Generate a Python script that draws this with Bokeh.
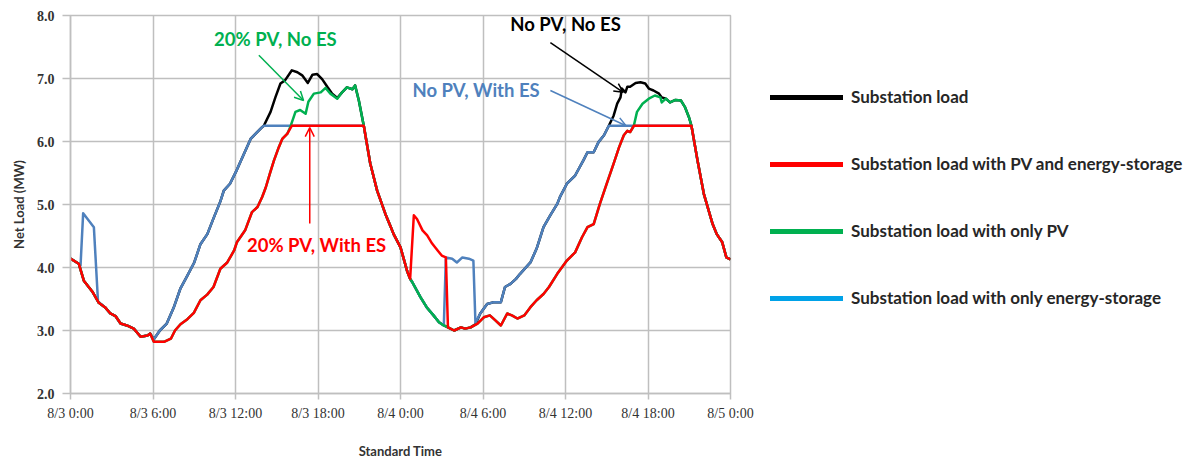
import numpy as np
from bokeh.plotting import figure
from bokeh.models import (Range1d, FixedTicker, Legend, LegendItem, Arrow, OpenHead,
                          ColumnDataSource)
from bokeh.embed import file_html
from bokeh.resources import INLINE
from bokeh.core.properties import value

# ---------------- data (hours since 8/3 0:00, MW) ----------------
tick_hours = [0, 6, 12, 18, 24, 30, 36, 42, 48]
tick_labels = ["8/3 0:00", "8/3 6:00", "8/3 12:00", "8/3 18:00", "8/4 0:00",
               "8/4 6:00", "8/4 12:00", "8/4 18:00", "8/5 0:00"]

black_pts = [
    (0, 4.14), (0.6, 4.06), (0.97, 3.79), (1.58, 3.62), (2.06, 3.44), (2.55, 3.36), (2.9, 3.27),
    (3.27, 3.23), (3.64, 3.11), (4.1, 3.08), (4.6, 3.03), (5.1, 2.90), (5.6, 2.92), (5.8, 2.95),
    (6.06, 2.86), (6.5, 3.0), (7.0, 3.11), (7.5, 3.36), (8.0, 3.67), (8.5, 3.87), (9.0, 4.08),
    (9.45, 4.37), (9.95, 4.53), (10.4, 4.78), (10.9, 5.05), (11.15, 5.22), (11.6, 5.33),
    (12.1, 5.55), (12.4, 5.70), (13.1, 6.04), (13.45, 6.12), (13.9, 6.22), (14.06, 6.25),
    (14.55, 6.47), (14.9, 6.70), (15.27, 6.92), (15.6, 6.97), (16.1, 7.13), (16.5, 7.10),
    (16.85, 7.05), (17.26, 6.93), (17.6, 7.06), (17.94, 7.07), (18.3, 6.99), (18.7, 6.86),
    (19.03, 6.76), (19.4, 6.69), (19.75, 6.78), (20.1, 6.86), (20.5, 6.83), (20.7, 6.89),
    (20.97, 6.65), (21.33, 6.25), (21.8, 5.65), (22.3, 5.22), (22.9, 4.85), (23.3, 4.64),
    (23.5, 4.53), (24.0, 4.32), (24.5, 3.93), (24.7, 3.82), (24.85, 3.77), (25.45, 3.53),
    (25.9, 3.37), (26.4, 3.24), (26.8, 3.13), (27.15, 3.08), (27.45, 3.05), (27.9, 3.0),
    (28.4, 3.05), (28.7, 3.03), (29.1, 3.05), (29.45, 3.10), (29.8, 3.27), (30.3, 3.42),
    (30.8, 3.45), (31.3, 3.45), (31.6, 3.69), (32.0, 3.74), (32.4, 3.82), (32.7, 3.90),
    (33.45, 4.08), (33.9, 4.30), (34.4, 4.64), (34.9, 4.83), (35.4, 5.01), (35.6, 5.12),
    (36.1, 5.33), (36.7, 5.46), (37.3, 5.70), (37.6, 5.83), (38.05, 5.83), (38.4, 5.99),
    (38.8, 6.10), (39.15, 6.25), (39.5, 6.41), (39.76, 6.60), (40.0, 6.70), (40.1, 6.84),
    (40.36, 6.78), (40.5, 6.87), (40.7, 6.87), (41.1, 6.93), (41.45, 6.94), (41.8, 6.92),
    (42.06, 6.84), (42.4, 6.81), (42.8, 6.76), (43.0, 6.70), (43.3, 6.68), (43.6, 6.62),
    (44.0, 6.66), (44.4, 6.65), (44.7, 6.54), (44.97, 6.39), (45.16, 6.25), (45.6, 5.70),
    (46.06, 5.17), (46.7, 4.69), (47.0, 4.53), (47.4, 4.40), (47.7, 4.16), (48.0, 4.13),
]

blue_pts = [
    (0, 4.14), (0.6, 4.06), (0.73, 4.03), (0.92, 4.86), (1.7, 4.64), (2.0, 3.46), (2.55, 3.36),
    (2.9, 3.27), (3.27, 3.23), (3.64, 3.11), (4.1, 3.08), (4.6, 3.03), (5.1, 2.90), (5.6, 2.92),
    (5.8, 2.95), (6.06, 2.86), (6.5, 3.0), (7.0, 3.11), (7.5, 3.36), (8.0, 3.67), (8.5, 3.87),
    (9.0, 4.08), (9.45, 4.37), (9.95, 4.53), (10.4, 4.78), (10.9, 5.05), (11.15, 5.22),
    (11.6, 5.33), (12.1, 5.55), (12.4, 5.70), (13.1, 6.04), (13.45, 6.12), (13.9, 6.22),
    (14.06, 6.25), (21.33, 6.25), (21.8, 5.65), (22.3, 5.22), (22.9, 4.85), (23.3, 4.64),
    (23.5, 4.53), (24.0, 4.32), (24.5, 3.93), (24.7, 3.82), (24.85, 3.77), (25.45, 3.53),
    (25.9, 3.37), (26.4, 3.24), (26.8, 3.13), (27.15, 3.08), (27.3, 4.16), (27.76, 4.14),
    (28.1, 4.08), (28.5, 4.16), (28.97, 4.14), (29.3, 4.11), (29.45, 3.12), (29.8, 3.27),
    (30.3, 3.42), (30.8, 3.45), (31.3, 3.45), (31.6, 3.69), (32.0, 3.74), (32.4, 3.82),
    (32.7, 3.90), (33.45, 4.08), (33.9, 4.30), (34.4, 4.64), (34.9, 4.83), (35.4, 5.01),
    (35.6, 5.12), (36.1, 5.33), (36.7, 5.46), (37.3, 5.70), (37.6, 5.83), (38.05, 5.83),
    (38.4, 5.99), (38.8, 6.10), (39.15, 6.25), (45.16, 6.25), (45.6, 5.70), (46.06, 5.17),
    (46.7, 4.69), (47.0, 4.53), (47.4, 4.40), (47.7, 4.16), (48.0, 4.13),
]

green_pts = [
    (0, 4.14), (0.6, 4.06), (0.97, 3.79), (1.58, 3.62), (2.06, 3.44), (2.55, 3.36), (2.9, 3.27),
    (3.27, 3.23), (3.64, 3.11), (4.1, 3.08), (4.6, 3.03), (5.1, 2.90), (5.6, 2.92), (5.8, 2.95),
    (6.06, 2.82), (6.8, 2.82), (7.3, 2.87), (7.6, 3.0), (8.0, 3.10), (8.5, 3.18), (8.97, 3.28),
    (9.45, 3.48), (9.94, 3.57), (10.4, 3.69), (10.9, 3.98), (11.4, 4.08), (11.9, 4.27),
    (12.1, 4.40), (12.7, 4.59), (13.2, 4.88), (13.6, 4.96), (13.94, 5.12), (14.2, 5.27),
    (14.5, 5.49), (14.8, 5.70), (15.15, 5.91), (15.4, 6.04), (15.76, 6.12), (16.0, 6.24),
    (16.36, 6.47), (16.7, 6.50), (17.1, 6.44), (17.3, 6.63), (17.7, 6.76), (18.2, 6.78),
    (18.55, 6.85), (18.9, 6.76), (19.4, 6.68), (19.75, 6.78), (20.1, 6.86), (20.5, 6.83),
    (20.7, 6.89), (20.97, 6.65), (21.33, 6.25), (21.8, 5.65), (22.3, 5.22), (22.9, 4.85),
    (23.3, 4.64), (23.5, 4.53), (24.0, 4.32), (24.5, 3.93), (24.7, 3.82), (24.85, 3.77),
    (25.45, 3.53), (25.9, 3.37), (26.4, 3.24), (26.8, 3.13), (27.15, 3.08), (27.45, 3.05),
    (27.9, 3.0), (28.4, 3.05), (28.7, 3.03), (29.1, 3.05), (29.6, 3.11), (30.06, 3.21),
    (30.5, 3.24), (30.9, 3.16), (31.3, 3.08), (31.76, 3.27), (32.1, 3.24), (32.5, 3.19),
    (33.0, 3.24), (33.45, 3.37), (33.9, 3.48), (34.4, 3.58), (34.8, 3.69), (35.4, 3.90),
    (36.1, 4.11), (36.7, 4.24), (37.2, 4.48), (37.6, 4.64), (38.05, 4.69), (38.5, 5.01),
    (39.0, 5.33), (39.5, 5.65), (39.9, 5.91), (40.24, 6.10), (40.5, 6.17), (40.7, 6.15),
    (40.97, 6.25), (41.2, 6.47), (41.6, 6.60), (42.06, 6.68), (42.5, 6.73), (42.9, 6.70),
    (43.0, 6.62), (43.3, 6.68), (43.6, 6.62), (44.0, 6.66), (44.4, 6.65), (44.7, 6.54),
    (44.97, 6.39), (45.16, 6.25), (45.6, 5.70), (46.06, 5.17), (46.7, 4.69), (47.0, 4.53),
    (47.4, 4.40), (47.7, 4.16), (48.0, 4.13),
]

red_pts = [
    (0, 4.14), (0.6, 4.06), (0.97, 3.79), (1.58, 3.62), (2.06, 3.44), (2.55, 3.36), (2.9, 3.27),
    (3.27, 3.23), (3.64, 3.11), (4.1, 3.08), (4.6, 3.03), (5.1, 2.90), (5.6, 2.92), (5.8, 2.95),
    (6.06, 2.82), (6.8, 2.82), (7.3, 2.87), (7.6, 3.0), (8.0, 3.10), (8.5, 3.18), (8.97, 3.28),
    (9.45, 3.48), (9.94, 3.57), (10.4, 3.69), (10.9, 3.98), (11.4, 4.08), (11.9, 4.27),
    (12.1, 4.40), (12.7, 4.59), (13.2, 4.88), (13.6, 4.96), (13.94, 5.12), (14.2, 5.27),
    (14.5, 5.49), (14.8, 5.70), (15.15, 5.91), (15.4, 6.04), (15.76, 6.12), (16.1, 6.25),
    (21.33, 6.25), (21.8, 5.65), (22.3, 5.22), (22.9, 4.85), (23.3, 4.64), (23.5, 4.53),
    (24.0, 4.32), (24.5, 3.93), (24.7, 3.82), (24.97, 4.83), (25.2, 4.77), (25.6, 4.59),
    (25.94, 4.51), (26.3, 4.38), (26.7, 4.27), (27.0, 4.19), (27.3, 4.16), (27.45, 3.05),
    (27.9, 3.0), (28.4, 3.05), (28.7, 3.03), (29.1, 3.05), (29.6, 3.11), (30.06, 3.21),
    (30.5, 3.24), (30.9, 3.16), (31.3, 3.08), (31.76, 3.27), (32.1, 3.24), (32.5, 3.19),
    (33.0, 3.24), (33.45, 3.37), (33.9, 3.48), (34.4, 3.58), (34.8, 3.69), (35.4, 3.90),
    (36.1, 4.11), (36.7, 4.24), (37.2, 4.48), (37.6, 4.64), (38.05, 4.69), (38.5, 5.01),
    (39.0, 5.33), (39.5, 5.65), (39.9, 5.91), (40.24, 6.10), (40.5, 6.17), (40.7, 6.15),
    (40.97, 6.25), (45.16, 6.25), (45.6, 5.70), (46.06, 5.17), (46.7, 4.69), (47.0, 4.53),
    (47.4, 4.40), (47.7, 4.16), (48.0, 4.13),
]

legend_labels = ["Substation load",
                 "Substation load with PV and energy-storage",
                 "Substation load with only PV",
                 "Substation load with only energy-storage"]

ann_text = ["20% PV, No ES", "No PV, No ES", "No PV, With ES", "20% PV, With ES"]
ann_x = [14.9, 36.0, 29.5, 17.9]
ann_y = [7.63, 7.86, 6.81, 4.35]
# arrows: (x_start, y_start, x_end, y_end)
arrow_segs = [(13.7, 7.37, 16.95, 6.65),
              (34.9, 7.57, 40.2, 6.78),
              (34.9, 6.81, 40.4, 6.25),
              (17.4, 4.70, 17.4, 6.22)]

# ---------------- styling ----------------
C_BLACK = "#000000"
C_RED = "#ff0000"
C_GREEN = "#00b050"
C_STEEL = "#4f81bd"
C_SKY = "#00a2e8"
ann_colors = [C_GREEN, C_BLACK, C_STEEL, C_RED]

p = figure(frame_width=660, frame_height=378, x_range=Range1d(0, 48), y_range=Range1d(2, 8),
           output_backend="svg", toolbar_location=None,
           min_border_left=70, min_border_right=0, min_border_top=15, min_border_bottom=0)
p.background_fill_color = "white"
p.border_fill_color = "white"
p.outline_line_color = "#bfbfbf"
p.outline_line_width = 1.5

for g in (p.xgrid, p.ygrid):
    g.grid_line_color = "#bfbfbf"
    g.grid_line_width = 1.5

p.xaxis.ticker = FixedTicker(ticks=tick_hours)
p.xaxis.major_label_overrides = {h: lab for h, lab in zip(tick_hours, tick_labels)}
p.yaxis.ticker = FixedTicker(ticks=[2, 3, 4, 5, 6, 7, 8])
p.yaxis.major_label_overrides = {v: f"{v:.1f}" for v in [2, 3, 4, 5, 6, 7, 8]}

for ax in (p.xaxis, p.yaxis):
    ax.axis_line_color = "#bfbfbf"
    ax.axis_line_width = 1.5
    ax.major_tick_line_color = "#bfbfbf"
    ax.major_tick_line_width = 1.5
    ax.major_tick_in = 0
    ax.minor_tick_line_color = None
    ax.major_label_text_color = "#333333"
    ax.axis_label_text_color = "#333333"
    ax.axis_label_text_font_style = "bold"
    ax.axis_label_text_font = "Lato"
    ax.axis_label_text_font_size = "13px"

p.xaxis.major_tick_out = 6
p.xaxis.major_label_standoff = 6
p.xaxis.major_label_text_font = "Liberation Serif"
p.xaxis.major_label_text_font_size = "14px"
p.xaxis.axis_label = "Standard Time"
p.xaxis.axis_label_standoff = 19

p.yaxis.major_tick_out = 8
p.yaxis.major_label_standoff = 8
p.yaxis.major_label_text_font = "Liberation Serif"
p.yaxis.major_label_text_font_style = "bold"
p.yaxis.major_label_text_font_size = "14px"
p.yaxis.axis_label = "Net Load (MW)"
p.yaxis.axis_label_standoff = 7

def series(pts):
    return [t for t, _ in pts], [v for _, v in pts]

for pts, col in ((black_pts, C_BLACK), (blue_pts, C_STEEL), (green_pts, C_GREEN), (red_pts, C_RED)):
    xs, ys = series(pts)
    p.line(xs, ys, line_color=col, line_width=2.5, line_join="round")

# legend (own swatches; the ES swatch is sky blue as in the original)
leg_colors = [C_BLACK, C_RED, C_GREEN, C_SKY]
leg_items = []
for lab, col in zip(legend_labels, leg_colors):
    r = p.line(np.array([np.nan]), np.array([np.nan]), line_color=col, line_width=5,
               line_cap="round")
    leg_items.append(LegendItem(label=lab, renderers=[r]))
legend = Legend(items=leg_items, location=(40, 85), orientation="vertical",
                glyph_width=73, glyph_height=20, label_height=20, spacing=46,
                padding=0, margin=0, border_line_alpha=0, background_fill_alpha=0,
                label_text_font="Lato", label_text_font_style="bold",
                label_text_font_size="17px", label_standoff=8, label_text_color="#262626")
p.add_layout(legend, "right")

# annotations
src = ColumnDataSource(dict(x=ann_x, y=ann_y, text=ann_text, color=ann_colors))
p.text(x="x", y="y", text="text", text_color="color", source=src,
       text_align="center", text_baseline="middle",
       text_font=value("Lato"), text_font_style="bold", text_font_size="18.5px")

for (x0, y0, x1, y1), col in zip(arrow_segs, ann_colors):
    p.add_layout(Arrow(end=OpenHead(size=9, line_color=col, line_width=1.5),
                       x_start=x0, y_start=y0, x_end=x1, y_end=y1,
                       line_color=col, line_width=1.5))

open("out.html", "w").write(file_html(p, INLINE))
